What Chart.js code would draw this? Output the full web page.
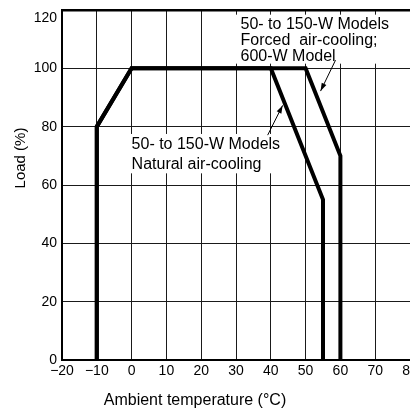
<!DOCTYPE html>
<html>
<head>
<meta charset="utf-8">
<script src="https://cdn.jsdelivr.net/npm/chart.js@4/dist/chart.umd.min.js"></script>
<style>
  html, body { margin:0; padding:0; background:#fff; overflow:hidden; }
  #wrap { position:relative; width:410px; height:408px; }
</style>
</head>
<body>
<div id="wrap"><canvas id="derating"></canvas></div>
<script>
// Derating curves, load (%) vs ambient temperature (°C)
const naturalX = [-10, -10, 0, 40, 55, 55];
const naturalY = [0, 80, 100, 100, 55, 0];
const forcedX  = [-10, -10, 0, 50, 60, 60];
const forcedY  = [0, 80, 100, 100, 70, 0];

const xTicks = [-20, -10, 0, 10, 20, 30, 40, 50, 60, 70, 80];
const yTicks = [0, 20, 40, 60, 80, 100, 120];

const xTitle = "Ambient temperature (°C)";
const yTitle = "Load (%)";

const naturalLabel = ["50- to 150-W Models", "Natural air-cooling"];
const forcedLabel  = ["50- to 150-W Models", "Forced  air-cooling;", "600-W Model"];

const FONT = '"Liberation Sans", Arial, Helvetica, sans-serif';

const toPts = (xs, ys) => xs.map((x, i) => ({ x, y: ys[i] }));
const fmtTick = v => v < 0 ? "\u2212" + Math.abs(v) : String(v);

// callouts: white box + text + leader arrow, all placed in data units
const callouts = [
  { lines: naturalLabel, x: 0, y: 72.3, lineH: 20,
    box: [-1, 77.5, 43.8, 64.0], arrow: [39.1, 77.1, 43.4, 87.3] },
  { lines: forcedLabel, x: 31.3, y: 113.4, lineH: 16,
    box: [29.5, 118.4, 80, 101.6], arrow: [58.6, 102.8, 54.3, 92.2] },
];

function arrow(ctx, x1, y1, x2, y2){
  ctx.beginPath(); ctx.moveTo(x1, y1); ctx.lineTo(x2, y2); ctx.stroke();
  const a = Math.atan2(y2 - y1, x2 - x1), L = 8, W = 2.6;
  ctx.beginPath();
  ctx.moveTo(x2, y2);
  ctx.lineTo(x2 - L*Math.cos(a) + W*Math.sin(a), y2 - L*Math.sin(a) - W*Math.cos(a));
  ctx.lineTo(x2 - L*Math.cos(a) - W*Math.sin(a), y2 - L*Math.sin(a) + W*Math.cos(a));
  ctx.closePath(); ctx.fill();
}

const annot = {
  id: "annot",
  beforeDatasetsDraw(chart){
    const { ctx, scales:{ x, y } } = chart;
    ctx.save();
    ctx.fillStyle = "#fff";
    callouts.forEach(c => {
      const [x0, y0, x1, y1] = c.box;
      ctx.fillRect(x.getPixelForValue(x0), y.getPixelForValue(y0),
        x.getPixelForValue(x1) - x.getPixelForValue(x0), y.getPixelForValue(y1) - y.getPixelForValue(y0));
    });
    ctx.restore();
  },
  afterDraw(chart){
    const { ctx, scales:{ x, y } } = chart;
    ctx.save();
    ctx.fillStyle = "#000"; ctx.strokeStyle = "#000"; ctx.lineWidth = 1;
    ctx.font = "16px " + FONT;
    ctx.textBaseline = "alphabetic"; ctx.textAlign = "left";
    callouts.forEach(c => {
      const px = x.getPixelForValue(c.x), py = y.getPixelForValue(c.y);
      c.lines.forEach((t, i) => ctx.fillText(t, px, py + i*c.lineH));
      const [ax1, ay1, ax2, ay2] = c.arrow;
      arrow(ctx, x.getPixelForValue(ax1), y.getPixelForValue(ay1), x.getPixelForValue(ax2), y.getPixelForValue(ay2));
    });
    // axis titles (sit off-centre in the original)
    ctx.textAlign = "center";
    ctx.fillText(xTitle, 195, 405);
    ctx.font = "15px " + FONT;
    ctx.textBaseline = "middle";
    ctx.translate(21, 158); ctx.rotate(-Math.PI/2);
    ctx.fillText(yTitle, 0, 0);
    ctx.restore();
  }
};

new Chart(document.getElementById("derating"), {
  type: "scatter",
  data: {
    datasets: [
      { label: "Natural air-cooling", data: toPts(naturalX, naturalY) },
      { label: "Forced air-cooling", data: toPts(forcedX, forcedY) },
    ].map(d => Object.assign(d, {
      showLine: true, borderColor: "#000", borderWidth: 4, pointRadius: 0,
      borderJoinStyle: "miter", borderCapStyle: "butt", fill: false
    }))
  },
  options: {
    responsive: true, maintainAspectRatio: false, animation: false,
    layout: { padding: { top: 10, right: 0, left: 0, bottom: 0 } },
    plugins: { legend: { display: false }, tooltip: { enabled: false } },
    scales: {
      x: {
        type: "linear", min: -20, max: 80,
        afterBuildTicks: s => { s.ticks = xTicks.map(v => ({ value: v })); },
        afterFit: s => { s.height = 48; s.paddingLeft = 0; s.paddingRight = 0; },
        ticks: { color: "#000", font: { size: 14, family: FONT }, padding: 3,
                 maxRotation: 0, autoSkip: false, callback: fmtTick },
        grid: { color: "#1a1a1a", lineWidth: 1, drawTicks: false },
        border: { color: "#000", width: 2 }
      },
      y: {
        type: "linear", min: 0, max: 120,
        afterBuildTicks: s => { s.ticks = yTicks.map(v => ({ value: v })); },
        afterFit: s => { s.width = 62; s.paddingTop = 0; s.paddingBottom = 0; },
        // top label sits a little below its line in the original
        ticks: { color: "#000", font: { size: 14, family: FONT }, padding: 5,
                 callback: v => v === 120 ? ["", fmtTick(v)] : fmtTick(v) },
        grid: { color: ctx => ctx.tick && ctx.tick.value === 120 ? "#000" : "#1a1a1a",
                lineWidth: ctx => ctx.tick && ctx.tick.value === 120 ? 2.5 : 1, drawTicks: false },
        border: { color: "#000", width: 2 }
      }
    }
  },
  plugins: [annot]
});
</script>
</body>
</html>
